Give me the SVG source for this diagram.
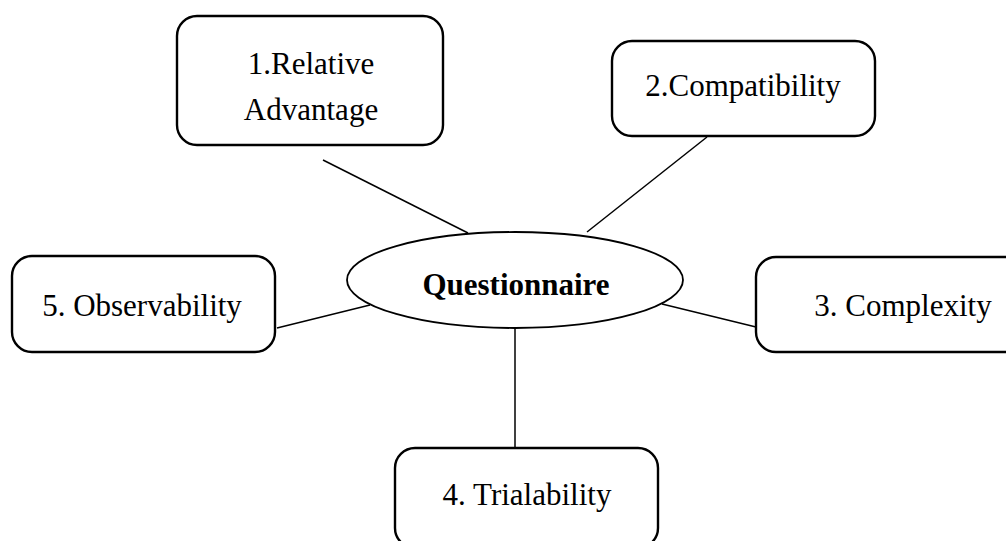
<svg xmlns="http://www.w3.org/2000/svg" width="1006" height="541" viewBox="0 0 1006 541">
<style>
.box{fill:#fff;stroke:#000;stroke-width:2.4}
.ell{fill:#fff;stroke:#000;stroke-width:1.8}
.lbl{font-family:"Liberation Serif","Times New Roman",serif;font-size:31px;fill:#000;text-anchor:middle}
.bold{font-weight:bold}
.conn line{stroke:#000;stroke-width:1.5}
</style>
<rect width="1006" height="541" fill="#fff"/>
<g id="connectors" class="conn">
<line x1="323" y1="160" x2="468" y2="233"/>
<line x1="707" y1="137" x2="587" y2="232"/>
<line x1="277" y1="328" x2="370" y2="305"/>
<line x1="662" y1="304" x2="756" y2="327"/>
<line x1="515" y1="327" x2="515" y2="448"/>
</g>
<g id="node-questionnaire">
<ellipse class="ell" cx="515" cy="280" rx="168" ry="48"/>
<text class="lbl bold" x="516" y="295">Questionnaire</text>
</g>
<g id="node-relative-advantage">
<rect class="box" x="177" y="16" width="266" height="129" rx="20"/>
<text class="lbl" x="311" y="74">1.Relative</text>
<text class="lbl" x="311" y="120">Advantage</text>
</g>
<g id="node-compatibility">
<rect class="box" x="612" y="41" width="263" height="95" rx="20"/>
<text class="lbl" x="743" y="96">2.Compatibility</text>
</g>
<g id="node-complexity">
<rect class="box" x="756" y="257" width="294" height="95" rx="20"/>
<text class="lbl" x="903" y="316">3. Complexity</text>
</g>
<g id="node-trialability">
<rect class="box" x="395" y="448" width="263" height="100" rx="20"/>
<text class="lbl" x="527" y="505">4. Trialability</text>
</g>
<g id="node-observability">
<rect class="box" x="12" y="256" width="263" height="96" rx="20"/>
<text class="lbl" x="142" y="316">5. Observability</text>
</g>
</svg>
